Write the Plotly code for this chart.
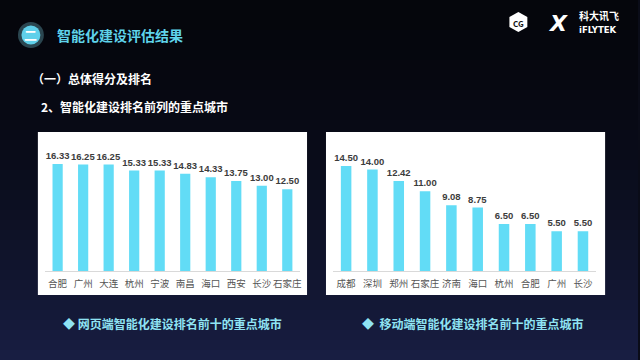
import plotly.graph_objects as go

web_cities = ["合肥", "广州", "大连", "杭州", "宁波", "南昌", "海口", "西安", "长沙", "石家庄"]
web_scores = [16.33, 16.25, 16.25, 15.33, 15.33, 14.83, 14.33, 13.75, 13.00, 12.50]

mobile_cities = ["成都", "深圳", "郑州", "石家庄", "济南", "海口", "杭州", "合肥", "广州", "长沙"]
mobile_scores = [14.50, 14.00, 12.42, 11.00, 9.08, 8.75, 6.50, 6.50, 5.50, 5.50]

title_text = "智能化建设评估结果"
section_text = "（一）总体得分及排名"
sub_text = "2、智能化建设排名前列的重点城市"
caption_left = "网页端智能化建设排名前十的重点城市"
caption_right = "移动端智能化建设排名前十的重点城市"

W, H = 640, 360
FONT = "Noto Sans CJK SC"
BAR = "#62dcf6"


def px(x):
    return x / W


def py(y):
    return 1 - y / H


fig = go.Figure()
for cats, vals, xa, ya in [(web_cities, web_scores, "x", "y"),
                           (mobile_cities, mobile_scores, "x2", "y2")]:
    fig.add_trace(go.Bar(
        x=cats, y=vals, xaxis=xa, yaxis=ya,
        marker=dict(color=BAR, line=dict(width=0)),
        text=[f"{v:.2f}" for v in vals], textposition="outside",
        constraintext="none",
        textfont=dict(size=9.5, color="#3c3c3c", family="Liberation Sans", weight="bold"),
        cliponaxis=False, showlegend=False, hoverinfo="skip",
    ))

shapes = []
# background gradient
n = 36
top = (5, 6, 12)
bot = (24, 30, 66)
for i in range(n):
    t = i / (n - 1)
    t2 = t ** 1.6
    c = tuple(int(top[k] + (bot[k] - top[k]) * t2) for k in range(3))
    shapes.append(dict(type="rect", xref="paper", yref="paper", x0=0, x1=1,
                       y0=1 - (i + 1) / n, y1=1 - i / n,
                       fillcolor=f"rgb{c}", line=dict(width=0), layer="below"))
# white panels
for x0, x1 in [(38, 308), (327, 607)]:
    shapes.append(dict(type="rect", xref="paper", yref="paper",
                       x0=px(x0), x1=px(x1), y0=py(295), y1=py(132),
                       fillcolor="white", line=dict(width=0), layer="below"))
# header circle
shapes.append(dict(type="circle", xref="paper", yref="paper",
                   x0=px(18), x1=px(44), y0=py(48), y1=py(22),
                   fillcolor="#2b4650", line=dict(width=0), layer="below"))
shapes.append(dict(type="circle", xref="paper", yref="paper",
                   x0=px(21.5), x1=px(40.5), y0=py(44.5), y1=py(25.5),
                   fillcolor="#5fd0ea", line=dict(width=0), layer="below"))
# cube logo
cx, cy = 520, 22
shapes.append(dict(type="path", xref="paper", yref="paper",
                   path=(f"M {px(cx)},{py(cy-10)} L {px(cx+9)},{py(cy-5)} L {px(cx+9)},{py(cy+5)} "
                         f"L {px(cx)},{py(cy+10)} L {px(cx-9)},{py(cy+5)} L {px(cx-9)},{py(cy-5)} Z"),
                   fillcolor="white", line=dict(width=0), layer="below"))


def ann(text, x, y, size, color, family=FONT, xanchor="left"):
    return dict(text=text, x=px(x), y=py(y), xref="paper", yref="paper",
                xanchor=xanchor, yanchor="middle", showarrow=False,
                font=dict(size=size, color=color, family=family))


annotations = [
    ann("<b>二</b>", 31, 35, 13, "white", xanchor="center"),
    ann(f"<b>{title_text}</b>", 55, 35, 14, "#5fd3ea"),
    ann(f"<b>{section_text}</b>", 30, 78, 12, "white"),
    ann(f"<b>{sub_text}</b>", 39, 106, 12, "white"),
    ann(f"<b>◆ {caption_left}</b>", 61, 323, 12, "#8fe3f3"),
    ann(f"<b>◆  {caption_right}</b>", 361, 323, 12, "#8fe3f3"),
    ann("<b>CG</b>", 520, 23, 8, "#111", xanchor="center"),
    ann("<i><b>X</b></i>", 560, 23, 22, "white", family="DejaVu Sans", xanchor="center"),
    ann("<b>科大讯飞</b>", 579, 16, 10, "white"),
    ann("<b>iFLYTEK</b>", 579, 30, 8.5, "white", family="DejaVu Sans"),
]

axis_common = dict(showgrid=False, zeroline=False, ticks="", showline=True,
                   linecolor="#d9d9d9", linewidth=1, tickangle=0, ticklabelstandoff=4,
                   tickfont=dict(size=9.5, color="#555555", family=FONT))
yaxis_common = dict(showgrid=False, zeroline=False, showticklabels=False, showline=False)

fig.update_layout(
    width=W, height=H, margin=dict(l=0, r=0, t=0, b=0),
    paper_bgcolor="#0a0c18", plot_bgcolor="rgba(0,0,0,0)",
    bargap=0.6,
    font=dict(family=FONT),
    xaxis=dict(domain=[px(45), px(301)], anchor="y", **axis_common),
    yaxis=dict(domain=[py(271), py(140)], range=[0, 20], anchor="x", **yaxis_common),
    xaxis2=dict(domain=[px(334), px(598)], anchor="y2", **axis_common),
    yaxis2=dict(domain=[py(271), py(140)], range=[0, 18.07], anchor="x2", **yaxis_common),
    shapes=shapes, annotations=annotations,
)

fig.write_html("out.html", config={"displayModeBar": False},
               post_script="document.body.style.margin='0';document.body.style.overflow='hidden';")
